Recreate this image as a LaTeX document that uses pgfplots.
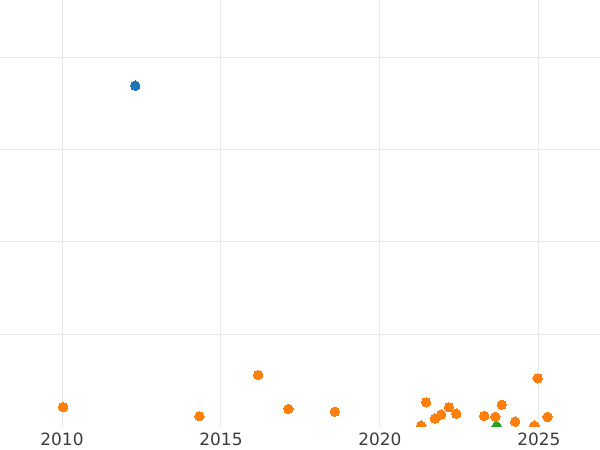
\documentclass[border=0pt]{standalone}
\usepackage{fontspec}
\setmainfont{DejaVu Sans}
\usepackage{pgfplots}
\pgfplotsset{compat=1.18}
\definecolor{cblue}{HTML}{1F77B4}
\definecolor{corange}{HTML}{FF7F0E}
\definecolor{cgreen}{HTML}{2CA02C}
\definecolor{gridc}{HTML}{E8E8E8}
\definecolor{labc}{HTML}{3C3C3C}
\begin{document}
\begin{tikzpicture}
\begin{axis}[
  scale only axis,
  width=600bp, height=426.5bp,
  xmin=2008.05, xmax=2026.92,
  ymin=0, ymax=4.62,
  axis line style={draw=none},
  major tick length=0pt,
  xtick={2010,2015,2020,2025},
  ytick={1,2,3,4},
  yticklabels={},
  grid=major,
  major grid style={draw=gridc, line width=1bp},
  /pgf/number format/assume math mode=true,
  /pgf/number format/1000 sep={},
  xticklabel style={font=\fontsize{17}{20}\selectfont, text=labc, inner sep=0pt, anchor=north, yshift=-6bp},
  clip=true,
  clip marker paths=true,
]
\addplot[only marks, mark=*, mark size=4.7bp, color=cblue, mark options={draw=cblue, fill=cblue, line width=0pt}] coordinates {(2012.305,3.692)};
\addplot[only marks, mark=*, mark size=4.7bp, color=corange, mark options={draw=corange, fill=corange, line width=0pt}] coordinates {
(2010.04,0.211) (2014.32,0.111) (2016.17,0.558) (2017.12,0.190) (2018.58,0.160)
(2021.45,0.262) (2021.30,0.009) (2021.73,0.085) (2021.92,0.128) (2022.17,0.208)
(2022.40,0.139) (2023.28,0.114) (2023.63,0.106) (2023.83,0.236) (2024.25,0.052)
(2024.86,0.009) (2024.96,0.522) (2025.27,0.103)
};
\addplot[only marks, mark=*, mark size=4.7bp, color=cgreen, mark options={draw=cgreen, fill=cgreen, line width=0pt}] coordinates {(2023.67,0)};
\end{axis}
\pgfresetboundingbox
\path (current axis.south west) ++(0,-23.5bp) rectangle (current axis.north east);
\end{tikzpicture}
\end{document}
